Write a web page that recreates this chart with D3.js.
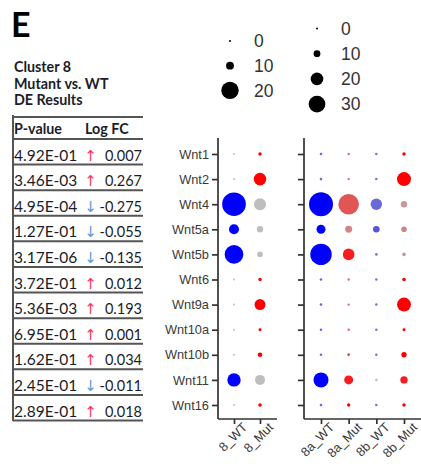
<!DOCTYPE html>
<html>
<head>
<meta charset="utf-8">
<script src="https://cdn.jsdelivr.net/npm/d3@7"></script>
<style>
  body { margin: 0; background: #fff; }
  svg { display: block; }
</style>
</head>
<body>
<div id="chart"></div>
<script>
// DE table (cluster 8, mutant vs WT)
const pValues = ['4.92E-01', '3.46E-03', '4.95E-04', '1.27E-01', '3.17E-06', '3.72E-01',
                 '5.36E-03', '6.95E-01', '1.62E-01', '2.45E-01', '2.89E-01'];
const logFC = [0.007, 0.267, -0.275, -0.055, -0.135, 0.012, 0.193, 0.001, 0.034, -0.011, 0.018];

const genes = ['Wnt1', 'Wnt2', 'Wnt4', 'Wnt5a', 'Wnt5b', 'Wnt6', 'Wnt9a', 'Wnt10a', 'Wnt10b', 'Wnt11', 'Wnt16'];
const leftGroups = ['8_WT', '8_Mut'];
const rightGroups = ['8a_WT', '8a_Mut', '8b_WT', '8b_Mut'];
const leftSizeTicks = [0, 10, 20];
const rightSizeTicks = [0, 10, 20, 30];

// percent expressed per group (one value per gene)
const pct_8_WT   = [0, 0, 26.5, 12.3, 21.3, 0, 0, 0, 0, 15.8, 0];
const pct_8_Mut  = [2.4, 15, 14.4, 7.6, 6.2, 2.4, 13.3, 1.7, 4.5, 12.3, 2.8];
const pct_8a_WT  = [1.2, 1.2, 47, 13.8, 41, 1.2, 1.2, 1.2, 1.2, 25.7, 1.2];
const pct_8a_Mut = [0.8, 0.8, 39, 10.3, 18.3, 0.8, 0.8, 0.8, 2, 13.8, 2.9];
const pct_8b_WT  = [1, 1, 17.9, 9.6, 1.2, 1, 1, 1, 1, 1.2, 1];
const pct_8b_Mut = [2.9, 23.3, 9.2, 7.5, 3.3, 3.3, 23.3, 2, 7, 11, 2.9];

// scaled expression (0 = grey, 1 = full group colour)
const exp_8_WT   = [0, 0, 1, 1, 1, 0, 0, 0, 0, 1, 0];
const exp_8_Mut  = [1, 1, 0, 0, 0, 1, 1, 1, 1, 0, 1];
const exp_8a_WT  = [0.45, 0.45, 1, 1, 1, 0.45, 0.45, 0.45, 0.45, 1, 0.45];
const exp_8a_Mut = [0.4, 0.4, 0.55, 0.3, 0.85, 0.4, 0.4, 0.45, 0.55, 0.85, 1];
const exp_8b_WT  = [0.4, 0.4, 0.45, 0.55, 0.4, 0.4, 0.4, 0.4, 0.4, 0, 0.4];
const exp_8b_Mut = [1, 1, 0.2, 0.3, 0.25, 1, 1, 1, 1, 0.85, 1];

const leftPct = [pct_8_WT, pct_8_Mut];
const leftExp = [exp_8_WT, exp_8_Mut];
const rightPct = [pct_8a_WT, pct_8a_Mut, pct_8b_WT, pct_8b_Mut];
const rightExp = [exp_8a_WT, exp_8a_Mut, exp_8b_WT, exp_8b_Mut];

const width = 421, height = 476;
const svg = d3.select('#chart').append('svg')
  .attr('width', width)
  .attr('height', height);

const textFont = 'Lato, Calibri, sans-serif';
const plotFont = '"Liberation Sans", Arial, sans-serif';

// ---- panel letter and table ----
svg.append('text')
  .attr('x', 11).attr('y', 37)
  .style('font-family', textFont).style('font-weight', 700).style('font-size', '34px')
  .text('E');

['Cluster 8', 'Mutant vs. WT', 'DE Results'].forEach(function(t, i) {
  svg.append('text')
    .attr('x', 14).attr('y', 72 + i * 16.5)
    .style('font-family', textFont).style('font-weight', 700).style('font-size', '14.3px')
    .style('fill', '#1c1c28')
    .text(t);
});

const table = svg.append('g');
const rowY = d3.scaleLinear().domain([0, pValues.length]).range([139, 420.5]);

table.append('line')
  .attr('x1', 13).attr('x2', 143).attr('y1', 117).attr('y2', 117)
  .attr('stroke', '#555').attr('stroke-width', 2);
table.append('line')
  .attr('x1', 13).attr('x2', 13).attr('y1', 115).attr('y2', 421)
  .attr('stroke', '#555').attr('stroke-width', 2);

table.append('text')
  .attr('x', 14).attr('y', 134)
  .style('font-family', textFont).style('font-weight', 700).style('font-size', '14.3px')
  .style('fill', '#1c1c28')
  .text('P-value');
table.append('text')
  .attr('x', 85).attr('y', 134)
  .style('font-family', textFont).style('font-weight', 700).style('font-size', '14.3px')
  .style('fill', '#1c1c28')
  .text('Log FC');

table.selectAll('line.row')
  .data(d3.range(pValues.length + 1))
  .enter().append('line')
  .attr('class', 'row')
  .attr('x1', 13).attr('x2', 143)
  .attr('y1', d => rowY(d)).attr('y2', d => rowY(d))
  .attr('stroke', '#555').attr('stroke-width', 2);

const rows = table.selectAll('g.r')
  .data(pValues)
  .enter().append('g')
  .attr('class', 'r')
  .attr('transform', (d, i) => 'translate(0,' + (rowY(i + 1) - 4) + ')');

rows.append('text')
  .attr('x', 14)
  .style('font-family', textFont).style('font-size', '15.5px').style('fill', '#1c1c28')
  .text(d => d);

rows.append('text')
  .attr('x', 90.5)
  .attr('text-anchor', 'middle')
  .style('font-family', '"DejaVu Sans", sans-serif').style('font-size', '15px')
  .style('fill', (d, i) => logFC[i] >= 0 ? '#ff3358' : '#5b9bd5')
  .text((d, i) => logFC[i] >= 0 ? '\u2191' : '\u2193');

rows.append('text')
  .attr('x', 142)
  .attr('text-anchor', 'end')
  .style('font-family', textFont).style('font-size', '14.5px').style('fill', '#1c1c28')
  .text((d, i) => logFC[i] >= 0 ? logFC[i].toFixed(3) : '-' + Math.abs(logFC[i]).toFixed(3));

// ---- dot plots ----
const y = d3.scalePoint().domain(genes).range([154, 405]);
const xLeft = d3.scalePoint().domain(leftGroups).range([234, 260]);
const xRight = d3.scalePoint().domain(rightGroups).range([321, 404]);

const rLeft = d3.scaleLinear().domain([0, 10, 20]).range([1, 3.9, 8.7]);
const rRight = d3.scaleLinear().domain([0, 10, 20, 30]).range([1, 3.4, 6.3, 8.4]);

function groupColor(g, t) {
  const base = g.indexOf('WT') >= 0 ? '#0000ff' : '#ff0000';
  return d3.interpolateRgb('#bebebe', base)(t);
}

function drawPanel(x, groups, pct, expr, rScale, axisLeftX, axisRightX, showLabels) {
  const g = svg.append('g');
  const yAxis = d3.axisLeft(y).tickSize(6).tickSizeOuter(0).tickPadding(3);
  if (!showLabels) yAxis.tickFormat('');
  const ya = g.append('g')
    .attr('transform', 'translate(' + axisLeftX + ',0)')
    .call(yAxis);
  ya.select('.domain').attr('d', 'M0,138V419');
  const xa = g.append('g')
    .attr('transform', 'translate(0,419)')
    .call(d3.axisBottom(x).tickSize(5).tickSizeOuter(0).tickPadding(4));
  xa.select('.domain').attr('d', 'M' + axisLeftX + ',0H' + axisRightX);
  xa.selectAll('text')
    .attr('text-anchor', 'end')
    .attr('dx', '0.25em')
    .attr('dy', '0.55em')
    .attr('transform', 'rotate(-45)');
  [ya, xa].forEach(function(a) {
    a.selectAll('.domain').attr('stroke', '#333').attr('stroke-width', 1.7);
    a.selectAll('.tick line').attr('stroke', '#333').attr('stroke-width', 1.7);
    a.selectAll('text').style('font-family', plotFont).style('font-size', '12.8px').style('fill', '#3a3a3a');
  });

  groups.forEach(function(grp, j) {
    g.append('g').selectAll('circle')
      .data(genes)
      .enter().append('circle')
      .attr('cx', x(grp))
      .attr('cy', d => y(d))
      .attr('r', (d, i) => rScale(pct[j][i]))
      .attr('fill', (d, i) => groupColor(grp, expr[j][i]));
  });
}

drawPanel(xLeft, leftGroups, leftPct, leftExp, rLeft, 218, 277, true);
drawPanel(xRight, rightGroups, rightPct, rightExp, rRight, 304, 421, false);

// ---- size legends ----
function drawLegend(ticks, rScale, cx, y0, step, labelX) {
  const lg = svg.append('g');
  lg.selectAll('circle')
    .data(ticks)
    .enter().append('circle')
    .attr('cx', cx)
    .attr('cy', (d, i) => y0 + i * step)
    .attr('r', d => rScale(d))
    .attr('fill', '#000');
  lg.selectAll('text')
    .data(ticks)
    .enter().append('text')
    .attr('x', labelX)
    .attr('y', (d, i) => y0 + i * step)
    .attr('dy', '0.36em')
    .style('font-family', plotFont).style('font-size', '17.5px').style('fill', '#333')
    .text(d => d);
}

drawLegend(leftSizeTicks, rLeft, 230, 41, 24.7, 254);
drawLegend(rightSizeTicks, rRight, 317, 28.5, 25.2, 341);
</script>
</body>
</html>
